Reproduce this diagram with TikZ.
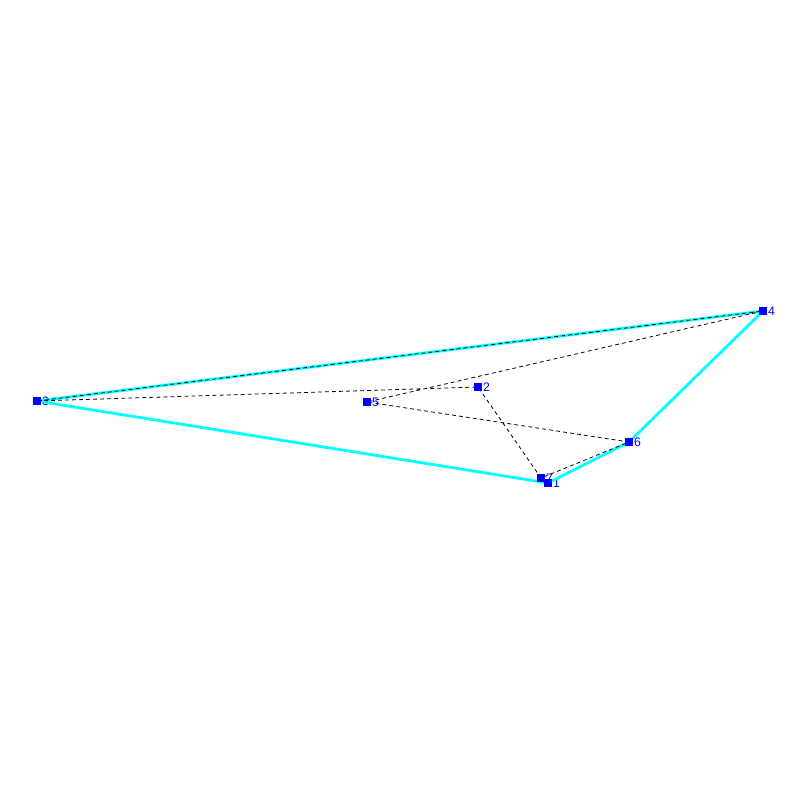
\documentclass[tikz,border=0pt]{standalone}
\usepackage{fontspec}
\setsansfont{Liberation Sans}
\definecolor{hullcyan}{RGB}{0,255,255}
\tikzset{
	pt/.style={rectangle, fill=blue, minimum size=4pt, inner sep=0pt},
	lbl/.style={text=blue, font=\fontsize{7}{7}\sffamily, inner sep=0.5pt, label distance=0pt},
	hull/.style={hullcyan, line width=1.6pt, line join=round},
	tour/.style={black, dash pattern=on 2.2pt off 1.8pt, line width=0.45pt}
}
\begin{document}
\begin{tikzpicture}[x=0.02cm, y=-0.02cm]
	\useasboundingbox (0,0) rectangle (800,800);
	% cac diem
	\node[pt,label={[lbl]right:1}] (p1) at (548,483) {};
	\node[pt,label={[lbl]right:2}] (p2) at (478,387) {};
	\node[pt,label={[lbl]right:3}] (p3) at (37,401) {};
	\node[pt,label={[lbl]right:4}] (p4) at (763,311) {};
	\node[pt,label={[lbl]right:5}] (p5) at (367,402) {};
	\node[pt,label={[lbl]right:6}] (p6) at (629,442) {};
	\node[pt,label={[lbl]right:7}] (p7) at (541,478) {};
	% bao loi
	\draw[hull] (p3.center)--(p4.center)--(p6.center)--(p1.center)--cycle;
	% duong di
	\draw[tour] (p3.center)--(p2.center)--(p7.center)--(p6.center)--(p5.center)--(p4.center)--(p3.center);
	% ve lai cac diem
	\foreach \p in {p1,p2,p3,p4,p5,p6,p7}{\fill[blue] (\p.south west) rectangle (\p.north east);}
\end{tikzpicture}
\end{document}
